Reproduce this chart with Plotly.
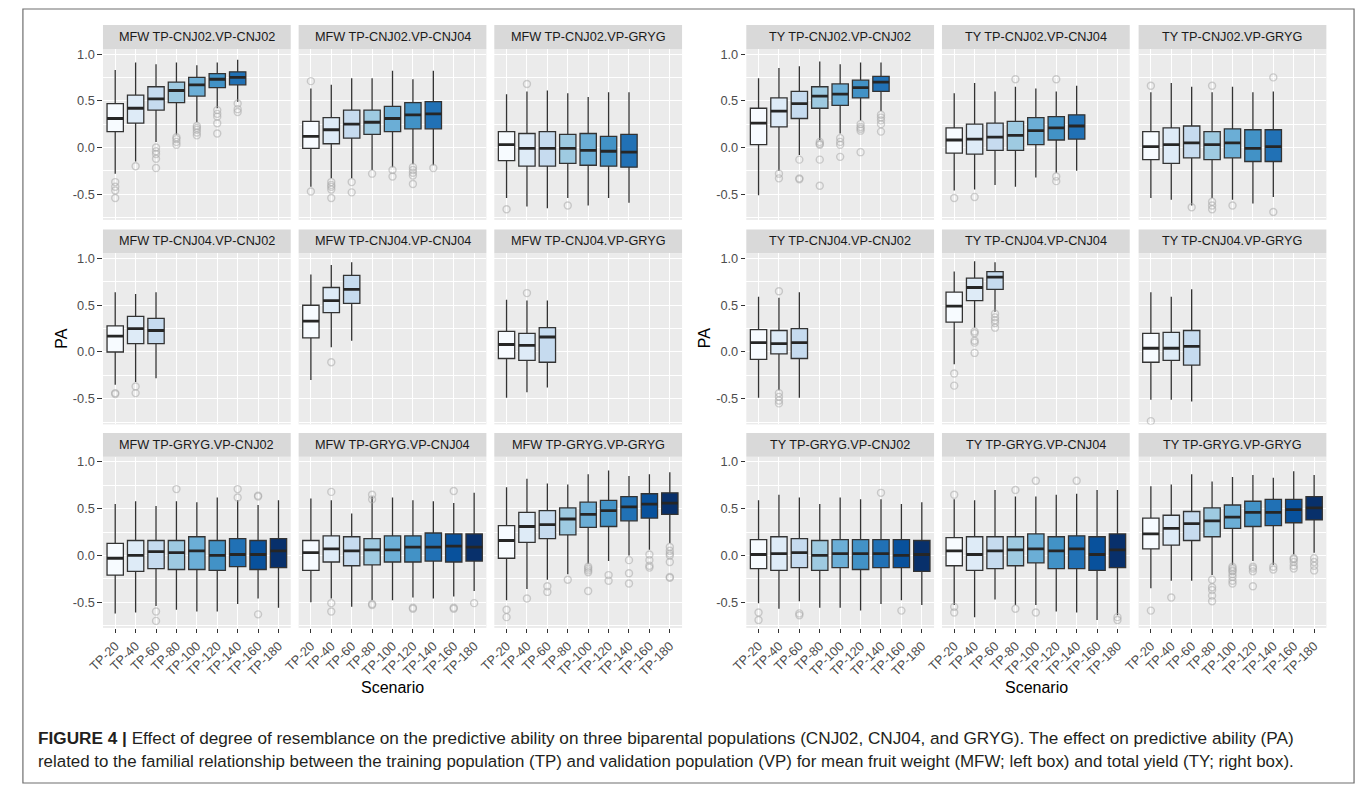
import plotly.graph_objects as go

W, H = 1358, 785

CATEGORIES = ["TP-20", "TP-40", "TP-60", "TP-80", "TP-100", "TP-120", "TP-140", "TP-160", "TP-180"]
FILL_COLORS = ["#F7FBFF", "#DEEBF7", "#C6DBEF", "#9ECAE1", "#6BAED6", "#4292C6", "#2171B5", "#08519C", "#08306B"]
Y_TICK_VALUES = [-0.5, 0.0, 0.5, 1.0]
Y_TICK_LABELS = ["-0.5", "0.0", "0.5", "1.0"]
Y_MINOR_VALUES = [-0.75, -0.25, 0.25, 0.75]
TRAITS = ["MFW", "TY"]
POPULATIONS = ["CNJ02", "CNJ04", "GRYG"]

# ---------------- MFW ----------------
mfw_c02_c02_lo = [-0.28, -0.15, 0.06, 0.14, 0.27, 0.42, 0.49]
mfw_c02_c02_q1 = [0.17, 0.26, 0.40, 0.48, 0.55, 0.64, 0.67]
mfw_c02_c02_med = [0.31, 0.42, 0.52, 0.61, 0.67, 0.73, 0.75]
mfw_c02_c02_q3 = [0.47, 0.56, 0.65, 0.70, 0.75, 0.79, 0.81]
mfw_c02_c02_hi = [0.83, 0.91, 0.89, 0.91, 0.88, 0.91, 0.94]
mfw_c02_c02_out = [[-0.37, -0.42, -0.46, -0.54], [-0.20], [0.0, -0.04, -0.07, -0.12, -0.22],
                   [0.11, 0.09, 0.06, 0.03], [0.23, 0.21, 0.19, 0.16, 0.13],
                   [0.40, 0.36, 0.33, 0.26, 0.15], [0.47, 0.41, 0.38]]

mfw_c02_c04_lo = [-0.42, -0.33, -0.33, -0.24, -0.21, -0.18, -0.19]
mfw_c02_c04_q1 = [-0.01, 0.04, 0.10, 0.14, 0.17, 0.20, 0.20]
mfw_c02_c04_med = [0.12, 0.19, 0.25, 0.27, 0.31, 0.35, 0.36]
mfw_c02_c04_q3 = [0.28, 0.32, 0.40, 0.40, 0.44, 0.48, 0.49]
mfw_c02_c04_hi = [0.63, 0.67, 0.74, 0.74, 0.82, 0.73, 0.82]
mfw_c02_c04_out = [[0.71, -0.47], [-0.37, -0.40, -0.42, -0.45, -0.54], [-0.37, -0.48], [-0.28],
                   [-0.24, -0.31], [-0.21, -0.24, -0.27, -0.30, -0.39], [-0.22]]

mfw_c02_gr_lo = [-0.54, -0.63, -0.65, -0.54, -0.62, -0.54, -0.59]
mfw_c02_gr_q1 = [-0.14, -0.20, -0.20, -0.17, -0.19, -0.20, -0.21]
mfw_c02_gr_med = [0.03, -0.01, -0.01, -0.01, -0.03, -0.04, -0.05]
mfw_c02_gr_q3 = [0.17, 0.15, 0.17, 0.14, 0.15, 0.12, 0.14]
mfw_c02_gr_hi = [0.57, 0.60, 0.61, 0.58, 0.54, 0.59, 0.59]
mfw_c02_gr_out = [[-0.66], [0.68], [], [-0.62], [], [], []]

mfw_c04_c02_lo = [-0.35, -0.32, -0.28]
mfw_c04_c02_q1 = [0.0, 0.09, 0.09]
mfw_c04_c02_med = [0.17, 0.25, 0.23]
mfw_c04_c02_q3 = [0.28, 0.38, 0.36]
mfw_c04_c02_hi = [0.64, 0.62, 0.64]
mfw_c04_c02_out = [[-0.44, -0.45], [-0.37, -0.44], []]

mfw_c04_c04_lo = [-0.30, 0.05, 0.12]
mfw_c04_c04_q1 = [0.15, 0.42, 0.52]
mfw_c04_c04_med = [0.33, 0.55, 0.67]
mfw_c04_c04_q3 = [0.50, 0.69, 0.82]
mfw_c04_c04_hi = [0.83, 0.93, 0.96]
mfw_c04_c04_out = [[], [-0.11], []]

mfw_c04_gr_lo = [-0.49, -0.43, -0.38]
mfw_c04_gr_q1 = [-0.07, -0.09, -0.11]
mfw_c04_gr_med = [0.08, 0.07, 0.16]
mfw_c04_gr_q3 = [0.22, 0.20, 0.26]
mfw_c04_gr_hi = [0.56, 0.55, 0.55]
mfw_c04_gr_out = [[], [0.63], []]

mfw_gr_c02_lo = [-0.62, -0.61, -0.54, -0.58, -0.60, -0.60, -0.52, -0.46, -0.56]
mfw_gr_c02_q1 = [-0.21, -0.17, -0.14, -0.15, -0.15, -0.16, -0.12, -0.15, -0.13]
mfw_gr_c02_med = [-0.03, 0.0, 0.04, 0.03, 0.05, 0.0, 0.01, 0.01, 0.05]
mfw_gr_c02_q3 = [0.13, 0.16, 0.16, 0.16, 0.20, 0.16, 0.18, 0.16, 0.18]
mfw_gr_c02_hi = [0.55, 0.58, 0.53, 0.58, 0.57, 0.62, 0.59, 0.54, 0.59]
mfw_gr_c02_out = [[], [], [-0.60, -0.70], [0.71], [], [], [0.71, 0.62], [0.64, 0.63, -0.63], []]

mfw_gr_c04_lo = [-0.50, -0.46, -0.55, -0.48, -0.48, -0.45, -0.46, -0.44, -0.38]
mfw_gr_c04_q1 = [-0.16, -0.07, -0.11, -0.10, -0.07, -0.07, -0.06, -0.07, -0.06]
mfw_gr_c04_med = [0.03, 0.07, 0.05, 0.06, 0.06, 0.09, 0.09, 0.10, 0.09]
mfw_gr_c04_q3 = [0.16, 0.21, 0.20, 0.18, 0.21, 0.21, 0.24, 0.23, 0.23]
mfw_gr_c04_hi = [0.61, 0.59, 0.45, 0.63, 0.62, 0.59, 0.58, 0.56, 0.67]
mfw_gr_c04_out = [[], [0.68, -0.51, -0.60], [], [0.65, 0.60, -0.52, -0.53], [], [-0.56, -0.57], [],
                  [0.69, -0.56, -0.57], [-0.51]]

mfw_gr_gr_lo = [-0.48, -0.36, -0.26, -0.20, -0.09, -0.06, 0.0, 0.06, 0.13]
mfw_gr_gr_q1 = [-0.03, 0.14, 0.18, 0.22, 0.30, 0.31, 0.37, 0.40, 0.44]
mfw_gr_gr_med = [0.16, 0.31, 0.33, 0.39, 0.44, 0.48, 0.52, 0.55, 0.56]
mfw_gr_gr_q3 = [0.32, 0.46, 0.48, 0.51, 0.57, 0.59, 0.63, 0.66, 0.67]
mfw_gr_gr_hi = [0.73, 0.82, 0.77, 0.76, 0.87, 0.91, 0.85, 0.87, 0.89]
mfw_gr_gr_out = [[-0.58, -0.66], [-0.46], [-0.33, -0.39], [-0.26], [-0.12, -0.14, -0.16, -0.18, -0.38],
                 [-0.21, -0.27], [-0.05, -0.19, -0.30], [0.01, -0.05, -0.11, -0.13],
                 [0.09, 0.05, 0.02, 0.0, -0.07, -0.23, -0.24]]

# ---------------- TY ----------------
ty_c02_c02_lo = [-0.51, -0.25, -0.08, 0.08, 0.15, 0.29, 0.39]
ty_c02_c02_q1 = [0.03, 0.22, 0.31, 0.42, 0.45, 0.53, 0.60]
ty_c02_c02_med = [0.26, 0.39, 0.47, 0.55, 0.57, 0.64, 0.70]
ty_c02_c02_q3 = [0.42, 0.53, 0.60, 0.65, 0.68, 0.72, 0.76]
ty_c02_c02_hi = [0.74, 0.85, 0.87, 0.92, 0.89, 0.91, 0.91]
ty_c02_c02_out = [[], [-0.28, -0.33], [-0.13, -0.33, -0.34], [0.06, 0.04, 0.03, -0.13, -0.41],
                  [0.10, 0.06, 0.03, -0.10], [0.25, 0.22, 0.20, 0.18, -0.05], [0.35, 0.32, 0.29, 0.25, 0.17]]

ty_c02_c04_lo = [-0.46, -0.45, -0.40, -0.42, -0.32, -0.27, -0.25]
ty_c02_c04_q1 = [-0.06, -0.07, -0.03, -0.03, 0.03, 0.08, 0.09]
ty_c02_c04_med = [0.08, 0.09, 0.11, 0.13, 0.18, 0.21, 0.23]
ty_c02_c04_q3 = [0.21, 0.25, 0.26, 0.28, 0.32, 0.33, 0.35]
ty_c02_c04_hi = [0.58, 0.69, 0.60, 0.65, 0.63, 0.60, 0.66]
ty_c02_c04_out = [[-0.54], [-0.53], [], [0.73], [], [0.73, -0.31, -0.36], []]

ty_c02_gr_lo = [-0.54, -0.56, -0.62, -0.54, -0.56, -0.60, -0.53]
ty_c02_gr_q1 = [-0.13, -0.17, -0.11, -0.13, -0.11, -0.15, -0.15]
ty_c02_gr_med = [0.01, 0.03, 0.05, 0.03, 0.05, -0.01, 0.01]
ty_c02_gr_q3 = [0.17, 0.21, 0.23, 0.17, 0.20, 0.19, 0.19]
ty_c02_gr_hi = [0.59, 0.69, 0.65, 0.59, 0.65, 0.59, 0.60]
ty_c02_gr_out = [[0.66], [], [-0.64], [0.66, -0.58, -0.62, -0.66], [-0.62], [], [0.75, -0.69]]

ty_c04_c02_lo = [-0.49, -0.41, -0.49]
ty_c04_c02_q1 = [-0.08, -0.02, -0.07]
ty_c04_c02_med = [0.10, 0.09, 0.10]
ty_c04_c02_q3 = [0.24, 0.23, 0.25]
ty_c04_c02_hi = [0.59, 0.58, 0.64]
ty_c04_c02_out = [[], [0.65, -0.44, -0.48, -0.52, -0.55], []]

ty_c04_c04_lo = [-0.13, 0.26, 0.43]
ty_c04_c04_q1 = [0.32, 0.55, 0.67]
ty_c04_c04_med = [0.49, 0.69, 0.80]
ty_c04_c04_q3 = [0.64, 0.79, 0.86]
ty_c04_c04_hi = [0.86, 0.97, 0.96]
ty_c04_c04_out = [[-0.23, -0.36], [0.22, 0.20, 0.12, 0.10, -0.01], [0.41, 0.37, 0.34, 0.31, 0.26]]

ty_c04_gr_lo = [-0.51, -0.51, -0.53]
ty_c04_gr_q1 = [-0.11, -0.09, -0.14]
ty_c04_gr_med = [0.04, 0.04, 0.06]
ty_c04_gr_q3 = [0.20, 0.21, 0.23]
ty_c04_gr_hi = [0.64, 0.59, 0.67]
ty_c04_gr_out = [[-0.74], [], []]

ty_gr_c02_lo = [-0.51, -0.57, -0.49, -0.56, -0.56, -0.59, -0.52, -0.48, -0.53]
ty_gr_c02_q1 = [-0.14, -0.16, -0.13, -0.16, -0.13, -0.15, -0.13, -0.13, -0.17]
ty_gr_c02_med = [0.01, 0.02, 0.03, 0.0, 0.02, 0.02, 0.02, 0.0, 0.01]
ty_gr_c02_q3 = [0.17, 0.20, 0.18, 0.16, 0.17, 0.17, 0.17, 0.17, 0.16]
ty_gr_c02_hi = [0.59, 0.65, 0.62, 0.55, 0.62, 0.60, 0.60, 0.55, 0.57]
ty_gr_c02_out = [[-0.61, -0.69], [], [-0.62, -0.64], [], [], [], [0.67], [-0.59], []]

ty_gr_c04_lo = [-0.53, -0.66, -0.47, -0.53, -0.53, -0.60, -0.61, -0.69, -0.64]
ty_gr_c04_q1 = [-0.11, -0.16, -0.14, -0.11, -0.08, -0.14, -0.14, -0.16, -0.13]
ty_gr_c04_med = [0.05, 0.01, 0.05, 0.06, 0.07, 0.05, 0.07, 0.01, 0.06]
ty_gr_c04_q3 = [0.19, 0.20, 0.20, 0.20, 0.23, 0.20, 0.21, 0.20, 0.23]
ty_gr_c04_hi = [0.60, 0.59, 0.70, 0.63, 0.63, 0.65, 0.66, 0.70, 0.70]
ty_gr_c04_out = [[0.65, -0.55, -0.61], [], [], [0.70, -0.57], [0.80, -0.61], [], [0.80], [], [-0.66, -0.69]]

ty_gr_gr_lo = [-0.35, -0.27, -0.27, -0.21, -0.10, -0.06, -0.10, 0.01, 0.03]
ty_gr_gr_q1 = [0.07, 0.11, 0.16, 0.20, 0.29, 0.31, 0.32, 0.35, 0.38]
ty_gr_gr_med = [0.23, 0.29, 0.34, 0.37, 0.41, 0.46, 0.46, 0.49, 0.51]
ty_gr_gr_q3 = [0.40, 0.43, 0.47, 0.51, 0.54, 0.58, 0.60, 0.60, 0.63]
ty_gr_gr_hi = [0.74, 0.76, 0.87, 0.79, 0.84, 0.86, 0.83, 0.90, 0.86]
ty_gr_gr_out = [[-0.59], [-0.45], [], [-0.26, -0.34, -0.37, -0.43, -0.49],
                [-0.12, -0.14, -0.16, -0.17, -0.20, -0.23, -0.27, -0.30],
                [-0.12, -0.14, -0.17, -0.33], [-0.12, -0.15], [-0.03, -0.04, -0.07, -0.11, -0.14],
                [-0.03, -0.07, -0.11, -0.16]]

CAPTION_LINE_1 = ("<b>FIGURE 4 |</b> Effect of degree of resemblance on the predictive ability on three biparental "
                  "populations (CNJ02, CNJ04, and GRYG). The effect on predictive ability (PA)")
CAPTION_LINE_2 = ("related to the familial relationship between the training population (TP) and validation "
                  "population (VP) for mean fruit weight (MFW; left box) and total yield (TY; right box).")

# panel order: trait -> TP row -> VP column
PANELS = {
    "MFW": [
        [(mfw_c02_c02_lo, mfw_c02_c02_q1, mfw_c02_c02_med, mfw_c02_c02_q3, mfw_c02_c02_hi, mfw_c02_c02_out),
         (mfw_c02_c04_lo, mfw_c02_c04_q1, mfw_c02_c04_med, mfw_c02_c04_q3, mfw_c02_c04_hi, mfw_c02_c04_out),
         (mfw_c02_gr_lo, mfw_c02_gr_q1, mfw_c02_gr_med, mfw_c02_gr_q3, mfw_c02_gr_hi, mfw_c02_gr_out)],
        [(mfw_c04_c02_lo, mfw_c04_c02_q1, mfw_c04_c02_med, mfw_c04_c02_q3, mfw_c04_c02_hi, mfw_c04_c02_out),
         (mfw_c04_c04_lo, mfw_c04_c04_q1, mfw_c04_c04_med, mfw_c04_c04_q3, mfw_c04_c04_hi, mfw_c04_c04_out),
         (mfw_c04_gr_lo, mfw_c04_gr_q1, mfw_c04_gr_med, mfw_c04_gr_q3, mfw_c04_gr_hi, mfw_c04_gr_out)],
        [(mfw_gr_c02_lo, mfw_gr_c02_q1, mfw_gr_c02_med, mfw_gr_c02_q3, mfw_gr_c02_hi, mfw_gr_c02_out),
         (mfw_gr_c04_lo, mfw_gr_c04_q1, mfw_gr_c04_med, mfw_gr_c04_q3, mfw_gr_c04_hi, mfw_gr_c04_out),
         (mfw_gr_gr_lo, mfw_gr_gr_q1, mfw_gr_gr_med, mfw_gr_gr_q3, mfw_gr_gr_hi, mfw_gr_gr_out)],
    ],
    "TY": [
        [(ty_c02_c02_lo, ty_c02_c02_q1, ty_c02_c02_med, ty_c02_c02_q3, ty_c02_c02_hi, ty_c02_c02_out),
         (ty_c02_c04_lo, ty_c02_c04_q1, ty_c02_c04_med, ty_c02_c04_q3, ty_c02_c04_hi, ty_c02_c04_out),
         (ty_c02_gr_lo, ty_c02_gr_q1, ty_c02_gr_med, ty_c02_gr_q3, ty_c02_gr_hi, ty_c02_gr_out)],
        [(ty_c04_c02_lo, ty_c04_c02_q1, ty_c04_c02_med, ty_c04_c02_q3, ty_c04_c02_hi, ty_c04_c02_out),
         (ty_c04_c04_lo, ty_c04_c04_q1, ty_c04_c04_med, ty_c04_c04_q3, ty_c04_c04_hi, ty_c04_c04_out),
         (ty_c04_gr_lo, ty_c04_gr_q1, ty_c04_gr_med, ty_c04_gr_q3, ty_c04_gr_hi, ty_c04_gr_out)],
        [(ty_gr_c02_lo, ty_gr_c02_q1, ty_gr_c02_med, ty_gr_c02_q3, ty_gr_c02_hi, ty_gr_c02_out),
         (ty_gr_c04_lo, ty_gr_c04_q1, ty_gr_c04_med, ty_gr_c04_q3, ty_gr_c04_hi, ty_gr_c04_out),
         (ty_gr_gr_lo, ty_gr_gr_q1, ty_gr_gr_med, ty_gr_gr_q3, ty_gr_gr_hi, ty_gr_gr_out)],
    ],
}

# ---------------- geometry (pixels) ----------------
GROUP_COLS = [[(88, 278), (286, 476), (484, 674)],
              [(739, 929), (937, 1127), (1136, 1326)]]
ROW_Y = [(47, 218.5), (252, 423.5), (456, 627.5)]
STRIP_H = 24
Y_RANGE = [-0.775, 1.055]
X_RANGE = [-0.6, 8.6]
BOX_W = 0.8
FONT = "Liberation Sans, Arial, Helvetica, sans-serif"
TICK_FONT = dict(size=12.8, color="#4D4D4D", family=FONT)


def fx(x):
    return x / W


def fy(y):
    return 1 - y / H


fig = go.Figure()
layout = dict(
    width=W, height=H, margin=dict(l=0, r=0, t=0, b=0),
    paper_bgcolor="white", plot_bgcolor="#EBEBEB",
    boxmode="overlay", showlegend=False,
    font=dict(family=FONT, color="#1A1A1A"),
    shapes=[], annotations=[],
)

k = 0
for g, trait in enumerate(TRAITS):
    for r, tp in enumerate(POPULATIONS):
        for c, vp in enumerate(POPULATIONS):
            k += 1
            xname = "x" if k == 1 else f"x{k}"
            yname = "y" if k == 1 else f"y{k}"
            x0, x1 = GROUP_COLS[g][c]
            y0, y1 = ROW_Y[r]
            lo, q1, med, q3, hi, out = PANELS[trait][r][c]
            n = len(med)
            for i in range(n):
                fig.add_trace(go.Box(
                    x=[i], q1=[q1[i]], median=[med[i]], q3=[q3[i]],
                    lowerfence=[lo[i]], upperfence=[hi[i]],
                    width=BOX_W, whiskerwidth=0, boxpoints=False,
                    fillcolor=FILL_COLORS[i],
                    line=dict(color="#333333", width=1.3),
                    xaxis=xname, yaxis=yname, hoverinfo="skip",
                ))
            # thicker median bars (ggplot fatten)
            mx, my = [], []
            for i in range(n):
                mx += [i - BOX_W / 2, i + BOX_W / 2, None]
                my += [med[i], med[i], None]
            fig.add_trace(go.Scatter(x=mx, y=my, mode="lines",
                                     line=dict(color="#262626", width=2.8),
                                     xaxis=xname, yaxis=yname, hoverinfo="skip"))
            ox, oy = [], []
            for i in range(n):
                for v in out[i]:
                    ox.append(i)
                    oy.append(v)
            fig.add_trace(go.Scatter(x=ox, y=oy, mode="markers",
                                     marker=dict(symbol="circle-open", size=7,
                                                 color="rgba(170,170,170,0.55)",
                                                 line=dict(width=1.4)),
                                     xaxis=xname, yaxis=yname, hoverinfo="skip"))

            bottom = (r == 2)
            left = (c == 0)
            layout["xaxis" if k == 1 else f"xaxis{k}"] = dict(
                domain=[fx(x0), fx(x1)], anchor=yname, range=X_RANGE,
                tickmode="array", tickvals=list(range(len(CATEGORIES))), ticktext=CATEGORIES,
                showticklabels=bottom, ticks="outside" if bottom else "",
                ticklen=4.5, tickwidth=1.2, tickcolor="#333333", tickangle=-45,
                tickfont=TICK_FONT,
                showgrid=True, gridcolor="white", gridwidth=1.3,
                zeroline=False, showline=False, fixedrange=True,
            )
            layout["yaxis" if k == 1 else f"yaxis{k}"] = dict(
                domain=[fy(y1), fy(y0)], anchor=xname, range=Y_RANGE,
                tickmode="array", tickvals=Y_TICK_VALUES, ticktext=Y_TICK_LABELS,
                showticklabels=left, ticks="outside" if left else "",
                ticklen=4.5, tickwidth=1.2, tickcolor="#333333",
                tickfont=TICK_FONT,
                showgrid=True, gridcolor="white", gridwidth=1.3,
                minor=dict(tickmode="array", tickvals=Y_MINOR_VALUES, showgrid=True,
                           gridcolor="white", gridwidth=0.7, ticks=""),
                zeroline=False, showline=False, fixedrange=True,
            )
            # strip
            layout["shapes"].append(dict(type="rect", xref="paper", yref="paper",
                                         x0=fx(x0), x1=fx(x1), y0=fy(y0), y1=fy(y0 - STRIP_H),
                                         fillcolor="#D9D9D9", line=dict(width=0), layer="below"))
            layout["annotations"].append(dict(
                text=f"{trait} TP-{tp}.VP-{vp}", xref="paper", yref="paper",
                x=fx((x0 + x1) / 2), y=fy(y0 - STRIP_H / 2), xanchor="center", yanchor="middle",
                showarrow=False, font=dict(size=12.7, color="#1A1A1A", family=FONT)))

# axis titles
for g in range(2):
    cols = GROUP_COLS[g]
    cx = (cols[0][0] + cols[2][1]) / 2
    layout["annotations"].append(dict(text="Scenario", xref="paper", yref="paper",
                                      x=fx(cx), y=fy(687), xanchor="center", yanchor="middle",
                                      showarrow=False, font=dict(size=16, color="#000000", family=FONT)))
    layout["annotations"].append(dict(text="PA", xref="paper", yref="paper",
                                      x=fx(cols[0][0] - 42), y=fy((ROW_Y[0][0] + ROW_Y[2][1]) / 2),
                                      xanchor="center", yanchor="middle", textangle=-90,
                                      showarrow=False, font=dict(size=16, color="#000000", family=FONT)))

# caption
layout["annotations"].append(dict(text=CAPTION_LINE_1, xref="paper", yref="paper", x=fx(20), y=fy(738),
                                  xanchor="left", yanchor="middle", showarrow=False,
                                  font=dict(size=17.2, color="#231F20", family=FONT)))
layout["annotations"].append(dict(text=CAPTION_LINE_2, xref="paper", yref="paper", x=fx(20), y=fy(761),
                                  xanchor="left", yanchor="middle", showarrow=False,
                                  font=dict(size=16.9, color="#231F20", family=FONT)))

# outer frame
layout["shapes"].append(dict(type="rect", xref="paper", yref="paper",
                             x0=fx(7), x1=fx(1354), y0=fy(783), y1=fy(7),
                             fillcolor="rgba(0,0,0,0)", line=dict(color="#6E6E6E", width=1.2)))

fig.update_layout(**layout)
fig.write_html("out.html")
